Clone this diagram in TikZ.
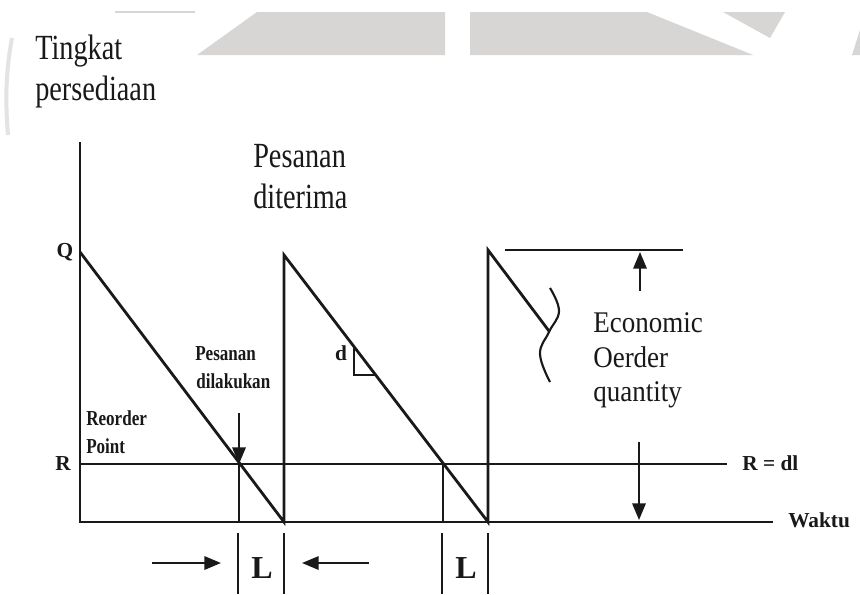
\documentclass[tikz,border=0pt]{standalone}
\usepackage{fontspec}
\setmainfont{Liberation Serif}
\newfontfamily\cond[FakeStretch=0.8]{Liberation Serif}
\newfontfamily\semicond[FakeStretch=0.9]{Liberation Serif}
\usetikzlibrary{arrows.meta}
\definecolor{band}{RGB}{216,214,213}
\definecolor{ink}{RGB}{25,25,25}
\tikzset{
  ln/.style={draw=ink,line width=2.1pt},
  thin/.style={draw=ink,line width=1.6pt},
  arr/.style={draw=ink,line width=1.7pt,-{Triangle[length=12.5pt,width=10pt]}},
  big/.style={inner sep=0,anchor=base west,font=\cond\fontsize{26.5}{30}\selectfont,text=ink},
  mid/.style={inner sep=0,anchor=base west,font=\semicond\fontsize{22.5}{26}\selectfont,text=ink},
  small/.style={inner sep=0,anchor=base west,font=\bfseries\cond\fontsize{16}{18}\selectfont,text=ink},
  lbl/.style={inner sep=0,font=\bfseries\fontsize{16}{18}\selectfont,text=ink},
  Lb/.style={inner sep=0,font=\bfseries\fontsize{24}{26}\selectfont,text=ink},
}
\begin{document}
\begin{tikzpicture}[x=0.75pt,y=-0.75pt]
\useasboundingbox (0,0) rectangle (860,594);
\fill[white] (0,0) rectangle (860,594);
% background watermark bands
\fill[band] (197,55) -- (257,12) -- (445,12) -- (445,55) -- cycle;
\fill[band] (470,12) -- (647,12) -- (753,55) -- (470,55) -- cycle;
\fill[band] (723,12) -- (785,12) -- (770,38) -- cycle;
\fill[band] (852,55) -- (860,30) -- (860,55) -- cycle;
\draw[band,line width=1.2pt] (115,12) -- (195,12);
\draw[band!70,line width=3pt] (12,38) .. controls (6,70) and (5,100) .. (8,135);
% coordinates
\coordinate (ytop) at (80,142);
\coordinate (o) at (80,522);
\coordinate (xend) at (773,522);
\coordinate (Q) at (80,252);
\coordinate (Rl) at (80,464);
\coordinate (Rr) at (727,464);
\coordinate (c1) at (239,464);
\coordinate (c1b) at (239,522);
\coordinate (z1) at (284,522);
\coordinate (p2) at (284,255);
\coordinate (c2) at (443,464);
\coordinate (c2b) at (443,522);
\coordinate (z2) at (488,522);
\coordinate (p3) at (488,250);
\coordinate (w) at (549,331);
% axes
\draw[ln] (ytop) -- (o) -- (xend);
\draw[ln] (Rl) -- (Rr);
% sawtooth
\draw[ln] (Q) -- (z1) -- (p2) -- (z2) -- (p3) -- (w);
\draw[ln] (c1) -- (c1b);
\draw[ln] (c2) -- (c2b);
% slope triangle
\coordinate (t1) at (354,347);
\coordinate (t2) at (354,375);
\coordinate (t3) at (375,375);
\draw[thin] (t1) -- (t2) -- (t3);
% wave
\draw[thin] plot[smooth,tension=0.7] coordinates {(550,288) (559,311) (549,332) (540,354) (550,382)};
% EOQ line and arrows
\coordinate (e1) at (505,250);
\coordinate (e2) at (683,250);
\draw[ln] (e1) -- (e2);
\coordinate (ua) at (640,291);
\coordinate (ub) at (640,252);
\draw[arr] (ua) -- (ub);
\coordinate (da) at (639,442);
\coordinate (db) at (639,520);
\draw[arr] (da) -- (db);
\coordinate (pa) at (239,413);
\draw[arr] (pa) -- (c1);
% L brackets
\coordinate (b1t) at (238,533); \coordinate (b1b) at (238,594);
\coordinate (b2t) at (284,533); \coordinate (b2b) at (284,594);
\coordinate (b3t) at (442,533); \coordinate (b3b) at (442,594);
\coordinate (b4t) at (488,533); \coordinate (b4b) at (488,594);
\draw[thin] (b1t) -- (b1b);
\draw[thin] (b2t) -- (b2b);
\draw[thin] (b3t) -- (b3b);
\draw[thin] (b4t) -- (b4b);
\coordinate (ra) at (152,563); \coordinate (rb) at (221,563);
\coordinate (la) at (369,563); \coordinate (lb) at (302,563);
\draw[arr] (ra) -- (rb);
\draw[arr] (la) -- (lb);
\node[Lb] (L1) at (262,568) {L};
\node[Lb] (L2) at (466,568) {L};
% texts
\node[big] (t1a) at (35,59) {Tingkat};
\node[big] (t1b) at (35,100) {persediaan};
\node[big] (t2a) at (253,167) {Pesanan};
\node[big] (t2b) at (253,208) {diterima};
\node[mid] (t3a) at (593,332) {Economic};
\node[mid] (t3b) at (593,367) {Oerder};
\node[mid] (t3c) at (593,401) {quantity};
\node[small] (s1) at (195,360) {Pesanan};
\node[small] (s2) at (196,388) {dilakukan};
\node[small] (s3) at (86,425) {Reorder};
\node[small] (s4) at (86,453) {Point};
\node[lbl] (Qn) at (65,252) {Q};
\node[lbl] (Rn) at (63,464) {R};
\node[lbl,anchor=west] (Rdl) at (742,463) {R = dl};
\node[lbl,anchor=west] (Wk) at (788,520) {Waktu};
\node[lbl] (dn) at (341,353) {d};
\end{tikzpicture}
\end{document}
